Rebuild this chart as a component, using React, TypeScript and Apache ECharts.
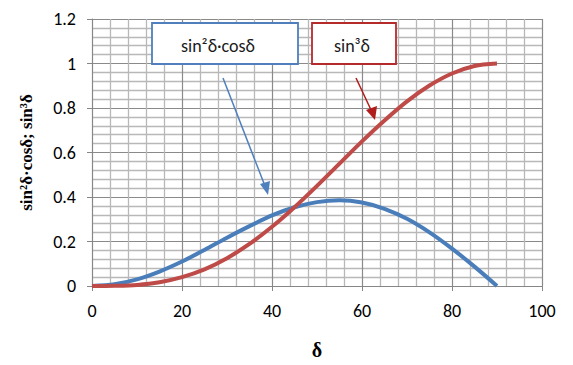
import React, { useEffect, useRef } from "react";
import * as echarts from "echarts";

const deltaDeg = [0, 5, 10, 15, 20, 25, 30, 35, 40, 45, 50, 55, 60, 65, 70, 75, 80, 85, 90];
const sin2cos = [0, 0.008, 0.03, 0.065, 0.11, 0.162, 0.217, 0.269, 0.317, 0.354, 0.377, 0.385, 0.375, 0.347, 0.302, 0.241, 0.168, 0.087, 0];
const sin3 = [0, 0.001, 0.005, 0.017, 0.04, 0.075, 0.125, 0.189, 0.266, 0.354, 0.45, 0.55, 0.65, 0.744, 0.83, 0.901, 0.955, 0.989, 1];
const xTicks = { min: 0, max: 100, interval: 20 };
const yTicks = { min: 0, max: 1.2, interval: 0.2 };
const seriesNames = ["sin²δ·cosδ", "sin³δ"];
const xName = "δ";
const yName = "sin²δ·cosδ; sin³δ";

const BLUE = "#4a7ebb";
const RED = "#be4b48";

export default function App() {
  const ref = useRef<HTMLDivElement>(null);
  useEffect(() => {
    document.body.style.margin = "0";
    const chart = echarts.init(ref.current!, null, { renderer: "svg" });
    const font = "Carlito, Lato, sans-serif";
    const axisCommon = {
      axisLine: { show: true, lineStyle: { color: "#868686", width: 1 } },
      axisTick: { show: true, length: 5, lineStyle: { color: "#868686" } },
      splitLine: { show: true, lineStyle: { color: "#8a8a8a", width: 1.2 } },
      minorTick: { show: false, splitNumber: 5 },
      minorSplitLine: { show: true, lineStyle: { color: "#b8b8b8", width: 1.3 } },
      axisLabel: { color: "#000", fontSize: 18, fontFamily: font, margin: 16 },
      nameLocation: "middle" as const,
      nameTextStyle: {
        fontFamily: "'Liberation Serif', serif",
        fontWeight: "bold" as const,
        color: "#000",
      },
    };
    chart.setOption({
      animation: false,
      backgroundColor: "#fff",
      grid: { left: 92, right: 31, top: 19, bottom: 78 },
      xAxis: {
        type: "value",
        ...axisCommon,
        ...xTicks,
        name: xName,
        nameGap: 54,
        nameTextStyle: { ...axisCommon.nameTextStyle, fontSize: 20 },
      },
      yAxis: {
        type: "value",
        ...axisCommon,
        ...yTicks,
        name: yName,
        nameGap: 57,
        nameTextStyle: { ...axisCommon.nameTextStyle, fontSize: 17 },
      },
      series: [
        {
          name: seriesNames[0],
          type: "line",
          smooth: 0.3,
          symbol: "none",
          lineStyle: { color: BLUE, width: 4 },
          data: deltaDeg.map((d, i) => [d, sin2cos[i]]),
        },
        {
          name: seriesNames[1],
          type: "line",
          smooth: 0.3,
          symbol: "none",
          lineStyle: { color: RED, width: 4 },
          data: deltaDeg.map((d, i) => [d, sin3[i]]),
        },
      ],
      graphic: [
        {
          type: "rect",
          shape: { x: 152, y: 23, width: 146, height: 41 },
          style: { fill: "#fff", stroke: "#4f7fbd", lineWidth: 1.8 },
          z: 10,
        },
        {
          type: "text",
          x: 218,
          y: 46,
          style: {
            text: seriesNames[0],
            fill: "#1a1a1a",
            font: `18px ${font}`,
            align: "center",
            verticalAlign: "middle",
          },
          z: 11,
        },
        {
          type: "rect",
          shape: { x: 312, y: 23, width: 84, height: 41 },
          style: { fill: "#fff", stroke: "#b52a2a", lineWidth: 1.8 },
          z: 10,
        },
        {
          type: "text",
          x: 352,
          y: 46,
          style: {
            text: seriesNames[1],
            fill: "#1a1a1a",
            font: `18px ${font}`,
            align: "center",
            verticalAlign: "middle",
          },
          z: 11,
        },
        {
          type: "line",
          shape: { x1: 223, y1: 78, x2: 265, y2: 186 },
          style: { stroke: "#4f7fbd", lineWidth: 1.5 },
          z: 10,
        },
        {
          type: "polygon",
          shape: { points: [[268, 195], [260, 184], [270, 181]] },
          style: { fill: "#4f7fbd" },
          z: 10,
        },
        {
          type: "line",
          shape: { x1: 356, y1: 78, x2: 372, y2: 112 },
          style: { stroke: "#b01c1c", lineWidth: 1.5 },
          z: 10,
        },
        {
          type: "polygon",
          shape: { points: [[375, 120], [366, 110], [377, 106]] },
          style: { fill: "#b01c1c" },
          z: 10,
        },
      ],
    });
    return () => chart.dispose();
  }, []);
  return <div ref={ref} style={{ width: 573, height: 365 }} />;
}
